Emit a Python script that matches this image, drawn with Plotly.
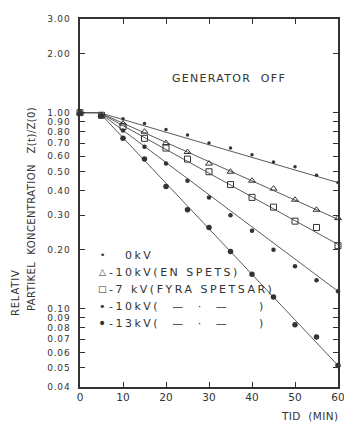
import math
import plotly.graph_objects as go

# ---- data ----
time_min = [0, 5, 10, 15, 20, 25, 30, 35, 40, 45, 50, 55, 60]
kv0      = [1.00, 0.98, 0.93, 0.88, 0.82, 0.77, 0.70, 0.66, 0.61, 0.56, 0.53, 0.48, 0.44]
kv10_en  = [1.00, 0.97, 0.88, 0.80, 0.70, 0.63, 0.55, 0.50, 0.45, 0.41, 0.36, 0.32, 0.29]
kv7_fyra = [1.00, 0.97, 0.85, 0.74, 0.66, 0.58, 0.50, 0.43, 0.37, 0.33, 0.28, 0.26, 0.21]
kv10     = [1.00, 0.96, 0.81, 0.67, 0.55, 0.45, 0.37, 0.30, 0.25, 0.20, 0.165, 0.14, 0.123]
kv13     = [1.00, 0.96, 0.74, 0.58, 0.42, 0.32, 0.26, 0.196, 0.15, 0.115, 0.083, 0.072, 0.0515]

# fitted straight lines: flat until the break, then straight (log scale) to t = 60
fit_t = [0, 4.5, 60]
fit_start = 1.0
fit_end = [0.44, 0.286, 0.213, 0.123, 0.0515]

x_ticks = [0, 10, 20, 30, 40, 50, 60]
y_ticks = [0.04, 0.05, 0.06, 0.07, 0.08, 0.09, 0.10, 0.20, 0.30, 0.40, 0.50,
           0.60, 0.70, 0.80, 0.90, 1.00, 2.00, 3.00]
y_ticktext = ["%.2f" % v for v in y_ticks]

legend_labels = ["0kV", "-10kV(EN SPETS)", "-7 kV(FYRA SPETSAR)",
                 "-10kV(  \u2014  \u00b7  \u2014     )",
                 "-13kV(  \u2014  \u00b7  \u2014     )"]
legend_symbols = ["\u2022", "\u25b3", "\u25a1", "\u2022", "\u2022"]

INK = "#333333"
LINE = "#5a5a5a"
FONT = "DejaVu Sans"

def spaced(s, px_):
    return '<span style="letter-spacing:%.1fpx">%s</span>' % (px_, s)

series = [kv0, kv10_en, kv7_fyra, kv10, kv13]
markers = [
    dict(symbol="circle", size=3.5, color=INK),
    dict(symbol="triangle-up-open", size=6, color=INK, line=dict(width=1, color=INK)),
    dict(symbol="square-open", size=6, color=INK, line=dict(width=1, color=INK)),
    dict(symbol="circle", size=4.5, color=INK),
    dict(symbol="circle", size=5.5, color=INK),
]

fig = go.Figure()
for ys, end, mk in zip(series, fit_end, markers):
    fig.add_trace(go.Scatter(x=fit_t, y=[fit_start, fit_start, end], mode="lines",
                             line=dict(color=LINE, width=1), hoverinfo="skip",
                             showlegend=False, cliponaxis=False))
    fig.add_trace(go.Scatter(x=time_min, y=ys, mode="markers", marker=mk,
                             showlegend=False, cliponaxis=False))

W, H = 344, 431
L, R, T, B = 80, 6, 19, 44
pw, ph = W - L - R, H - T - B

def px(xpix):
    return (xpix - L) / pw

def py(ypix):
    return 1 - (ypix - T) / ph

annotations = []
rows_y = [255, 272, 289, 306, 323]
sym_sizes = [9, 9, 9, 11, 14]
for i, (sym, lab, yy) in enumerate(zip(legend_symbols, legend_labels, rows_y)):
    annotations.append(dict(x=px(102), y=py(yy), xref="paper", yref="paper",
                            text=sym, showarrow=False, xanchor="center", yanchor="middle",
                            font=dict(family=FONT, size=sym_sizes[i], color=INK)))
    annotations.append(dict(x=px(123 if i == 0 else 107), y=py(yy), xref="paper", yref="paper",
                            text=spaced(lab, 2.5), showarrow=False, xanchor="left",
                            yanchor="middle", font=dict(family=FONT, size=11, color=INK)))
annotations.append(dict(x=px(170), y=py(78), xref="paper", yref="paper",
                        text=spaced("GENERATOR  OFF", 1.3), showarrow=False, xanchor="left",
                        yanchor="middle", font=dict(family=FONT, size=11, color=INK)))
annotations.append(dict(x=px(279), y=py(416), xref="paper", yref="paper",
                        text=spaced("TID  (MIN)", 0.4), showarrow=False, xanchor="left",
                        yanchor="middle", font=dict(family=FONT, size=10.5, color=INK)))
annotations.append(dict(x=px(15), y=py(293), xref="paper", yref="paper",
                        text=spaced("RELATIV", 0.8), showarrow=False, textangle=-90,
                        xanchor="center", yanchor="middle",
                        font=dict(family=FONT, size=10, color=INK)))
annotations.append(dict(x=px(31), y=py(209), xref="paper", yref="paper",
                        text=spaced("PARTIKEL  KONCENTRATION   Z(t)/Z(0)", 0.4),
                        showarrow=False, textangle=-90, xanchor="center", yanchor="middle",
                        font=dict(family=FONT, size=10, color=INK)))

fig.update_layout(
    width=W, height=H, margin=dict(l=L, r=R, t=T, b=B, autoexpand=False),
    paper_bgcolor="white", plot_bgcolor="white",
    showlegend=False, annotations=annotations,
    font=dict(family=FONT, color=INK, size=10),
)
fig.update_xaxes(range=[0, 60], tickvals=x_ticks, ticktext=[str(v) for v in x_ticks],
                 ticks="inside", ticklen=5, tickcolor=INK, tickwidth=1,
                 showline=True, linecolor=INK, linewidth=1.5, mirror="allticks",
                 showgrid=False, zeroline=False, ticklabeloverflow="allow",
                 tickfont=dict(size=10.5, color=INK))
fig.update_yaxes(type="log", range=[math.log10(0.04), math.log10(3.0)],
                 tickvals=y_ticks, ticktext=[spaced(t, 0.8) for t in y_ticktext],
                 ticks="inside", ticklen=5, tickcolor=INK, tickwidth=1,
                 showline=True, linecolor=INK, linewidth=1.5, mirror="allticks",
                 showgrid=False, zeroline=False, ticklabelstandoff=6,
                 tickfont=dict(size=9, color=INK))

fig.write_html("out.html")
